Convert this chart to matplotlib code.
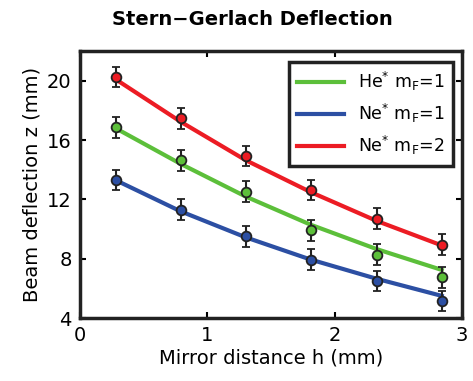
import matplotlib
matplotlib.use("Agg")
import matplotlib.pyplot as plt

h = [0.28, 0.79, 1.30, 1.81, 2.33, 2.84]
he1 = [16.86, 14.64, 12.52, 9.92, 8.27, 6.76]
ne1 = [13.31, 11.32, 9.51, 7.93, 6.51, 5.15]
ne2 = [20.25, 17.47, 14.92, 12.63, 10.69, 8.95]
err = [0.7, 0.7, 0.7, 0.7, 0.7, 0.7]
he1_fit = [16.8, 14.4, 12.2, 10.3, 8.65, 7.25]
ne1_fit = [13.3, 11.2, 9.45, 7.95, 6.65, 5.5]
ne2_fit = [20.1, 17.24, 14.65, 12.5, 10.55, 8.9]

labels = [r'He$^{*}$ m$_{F}$=1', r'Ne$^{*}$ m$_{F}$=1', r'Ne$^{*}$ m$_{F}$=2']
colors = ['#5cbf3a', '#2c4fa3', '#ec1c24']

plt.rcParams['font.family'] = ['DejaVu Sans']
plt.rcParams['mathtext.default'] = 'regular'

fig = plt.figure(figsize=(4.73, 3.81), dpi=100)
ax = fig.add_axes([0.169, 0.165, 0.808, 0.701])

for fit, c, lab in zip([he1_fit, ne1_fit, ne2_fit], colors, labels):
    ax.plot(h, fit, color=c, lw=3, label=lab, zorder=2)
for d, c in zip([he1, ne1, ne2], colors):
    ax.errorbar(h, d, yerr=err, fmt='o', color=c, mfc=c, mec='#222222', mew=1.3,
                ms=7, ecolor='#222222', elinewidth=1.5, capsize=3, capthick=1.5, zorder=3)

ax.set_xlim(0, 3)
ax.set_ylim(4, 22)
ax.set_xticks([0, 1, 2, 3])
ax.set_yticks([4, 8, 12, 16, 20])
ax.tick_params(direction='in', length=4, width=1.5, labelsize=14, top=True, right=True, pad=6)
for s in ax.spines.values():
    s.set_linewidth(2.5)
    s.set_color('#222222')
ax.set_xlabel('Mirror distance h (mm)', fontsize=14, labelpad=2)
ax.set_ylabel('Beam deflection z (mm)', fontsize=14, labelpad=4)
fig.text(0.533, 0.950, 'Stern\u2212Gerlach Deflection', fontsize=14, fontweight='heavy',
         ha='center', va='center')

leg = ax.legend(loc='upper right', fontsize=12.5, frameon=True, fancybox=False,
                edgecolor='#222222', framealpha=1, handlelength=2.7, borderpad=0.5,
                labelspacing=0.5, bbox_to_anchor=(1.0, 0.993))
leg.get_frame().set_linewidth(2.5)

fig.savefig('out.png', dpi=100)
